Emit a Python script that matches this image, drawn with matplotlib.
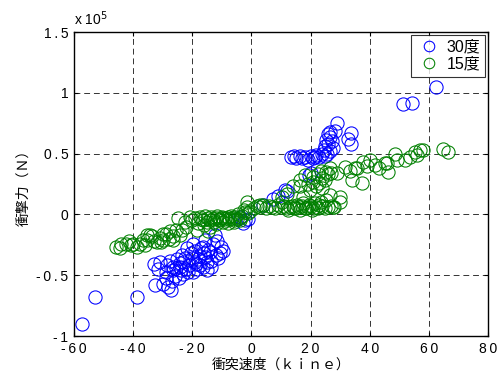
import matplotlib
matplotlib.use("Agg")
import matplotlib.pyplot as plt
from matplotlib.ticker import FixedLocator, FixedFormatter

# ---- data (force in units of 1e5 N) ----
x30 = [-57.1, -52.7, -38.8,
       -33.0, -30.9, -32.6, -29.8, -28.1, -27.3, -28.7, -26.4, -25.9, -24.2, -23.0, -23.0, -22.0,
       -20.2, -19.2, -17.4, -17.2, -15.1, -15.6, -14.0, -13.5, -11.2, -10.1, -13.0, -15.8, -19.6,
       -21.8, -23.5, -25.2, -19.0, -16.4, -27.5, -26.4, -12.3, -10.6, -16.3, -18.5, -21.0, -24.5,
       -26.8, -29.0, -20.5, -18.0, -14.5, -12.0, -17.0, -22.5, -13.8, -11.5, -16.0, -19.8, -28.5,
       -31.5, -24.0, -21.5, -25.5, -15.0, -9.5, -18.8, -23.8,
       -3.9, -2.2, -2.7, -1.0,
       4.0, 7.4, 9.0, 11.9, 11.4, 20.3, 19.5,
       13.5, 15.0, 16.5, 18.0, 19.0, 20.0, 21.0, 22.0, 23.0, 24.0, 25.0, 26.5, 14.5, 17.0, 21.5,
       24.5, 25.0, 25.4, 26.0, 26.6, 27.2, 26.0, 25.5, 27.5, 28.3, 28.8, 26.6,
       33.8, 33.8, 32.5,
       51.4, 54.2, 62.3]
y30 = [-0.90, -0.68, -0.68,
       -0.41, -0.39, -0.58, -0.57, -0.60, -0.62, -0.47, -0.46, -0.51, -0.43, -0.39, -0.49, -0.45,
       -0.36, -0.39, -0.34, -0.42, -0.46, -0.35, -0.31, -0.38, -0.36, -0.27, -0.24, -0.21, -0.24,
       -0.28, -0.33, -0.37, -0.30, -0.27, -0.38, -0.43, -0.17, -0.32, -0.43, -0.45, -0.42, -0.52,
       -0.55, -0.52, -0.32, -0.37, -0.29, -0.33, -0.28, -0.36, -0.43, -0.22, -0.32, -0.47, -0.42,
       -0.45, -0.40, -0.47, -0.44, -0.39, -0.30, -0.41, -0.46,
       -0.02, -0.05, -0.07, -0.04,
       0.076, 0.13, 0.15, 0.19, 0.20, 0.34, 0.32,
       0.47, 0.46, 0.48, 0.47, 0.45, 0.48, 0.46, 0.49, 0.47, 0.50, 0.48, 0.52, 0.48, 0.46, 0.47,
       0.53, 0.56, 0.61, 0.58, 0.64, 0.60, 0.66, 0.50, 0.55, 0.69, 0.75, 0.68,
       0.67, 0.58, 0.62,
       0.905, 0.913, 1.044]

x15 = [-45.6, -43.9, -44.4, -42.5, -40.7, -39.9, -37.7, -36.6, -35.4, -35.4, -34.3, -33.0, -32.0,
       -31.0, -29.8, -28.7, -27.6, -26.5, -26.4, -25.4, -24.8, -23.6, -22.5, -20.8, -18.5, -14.6,
       -38.5, -41.5, -33.5, -30.5, -28.0, -24.0, -22.0, -30.0, -36.0,
       -20.0, -19.0, -18.0, -17.5, -17.0, -16.3, -15.5, -15.0, -14.5, -14.0, -13.5, -13.0, -12.5,
       -12.0, -11.5, -11.0, -10.5, -10.0, -9.5, -9.0, -8.5, -8.0, -7.5, -7.0, -6.5, -6.0, -5.5,
       -5.0, -4.5, -4.0, -3.0, -2.0, -1.0, -16.0, -12.0, -8.0, -4.0, -14.0, -10.0, -6.0,
       -1.6, -2.5, -0.5,
       1.0, 2.0, 3.0, 4.0, 5.0, 6.0, 7.0, 8.0, 9.0, 10.0, 11.0, 12.0, 13.0, 14.0, 15.0, 16.0,
       17.0, 18.0, 19.0, 20.0, 21.0, 22.0, 23.0, 24.0, 25.0, 26.0, 27.0, 28.0, 30.0,
       12.5, 14.5, 16.5, 18.5, 20.5, 22.5, 15.5, 17.5, 19.5, 21.5, 23.5, 10.5,
       3.0, 16.4, 24.0, 26.6, -1.6,
       14.2, 16.4, 18.1, 20.9, 23.7, 25.4, 26.6, 22.0, 19.8, 17.6, 30.0, 25.4, 27.6, 21.0, 24.0,
       26.0, 22.5, 19.0, 23.0, 25.0, 27.0, 12.0, 10.5,
       28.9, 31.6, 33.3, 35.0, 35.6, 37.3, 37.8, 40.1, 41.8, 45.2, 45.8, 46.3, 48.6, 49.2, 51.9,
       53.6, 55.3, 57.0, 58.1, 56.0, 64.8, 66.5, 43.0, 39.0, 34.0]
y15 = [-0.27, -0.24, -0.28, -0.24, -0.25, -0.24, -0.24, -0.21, -0.17, -0.21, -0.17, -0.22, -0.225,
       -0.19, -0.21, -0.16, -0.14, -0.21, -0.18, -0.13, -0.03, -0.13, -0.06, -0.02, -0.13, -0.14,
       -0.27, -0.22, -0.18, -0.23, -0.20, -0.17, -0.10, -0.16, -0.25,
       -0.05, -0.03, -0.07, -0.02, -0.04, -0.05, -0.01, -0.06, -0.03, -0.05, -0.02, -0.04, -0.06,
       -0.03, -0.01, -0.05, -0.04, -0.02, -0.06, -0.03, -0.05, -0.02, -0.04, -0.01, -0.03, -0.05,
       -0.02, -0.04, 0.00, -0.03, -0.01, 0.02, 0.01, -0.09, -0.08, -0.07, -0.05, -0.10, -0.03, -0.06,
       0.06, 0.04, 0.03,
       0.05, 0.07, 0.06, 0.08, 0.05, 0.07, 0.06, 0.05, 0.08, 0.06, 0.07, 0.05, 0.06, 0.07, 0.05,
       0.06, 0.07, 0.05, 0.06, 0.07, 0.05, 0.06, 0.08, 0.07, 0.05, 0.06, 0.07, 0.06, 0.10,
       0.04, 0.05, 0.04, 0.05, 0.04, 0.05, 0.08, 0.09, 0.08, 0.09, 0.10, 0.10,
       0.076, 0.23, 0.22, 0.16, 0.10,
       0.23, 0.28, 0.32, 0.31, 0.36, 0.35, 0.38, 0.23, 0.20, 0.145, 0.145, 0.12, 0.06, 0.27, 0.30,
       0.33, 0.33, 0.25, 0.26, 0.28, 0.34, 0.17, 0.14,
       0.34, 0.39, 0.36, 0.38, 0.38, 0.255, 0.43, 0.45, 0.405, 0.42, 0.42, 0.35, 0.50, 0.45, 0.45,
       0.47, 0.515, 0.53, 0.53, 0.49, 0.54, 0.515, 0.38, 0.40, 0.28]

xticks = [-60, -40, -20, 0, 20, 40, 60, 80]
xticklabels = ["-60", "-40", "-20", "0", "20", "40", "60", "80"]
yticks = [-1, -0.5, 0, 0.5, 1, 1.5]
yticklabels = ["-1", "-0.5", "0", "0.5", "1", "1.5"]
series_labels = ["30度", "15度"]
xlabel = "衝突速度（ｋｉｎｅ）"
ylabel = "衝撃力（Ｎ）"

TS = "\u2009"  # thin space, mimics the wide letter spacing of the original
def spaced(s):
    return TS.join(list(s))

plt.rcParams['font.family'] = ['Liberation Sans', 'Noto Sans CJK JP', 'DejaVu Sans']

fig = plt.figure(figsize=(4.99, 3.74), dpi=100)
ax = fig.add_axes([0.148, 0.1016, 0.830, 0.8128])

ax.plot(x30, y30, linestyle='none', marker='o', markersize=9.5, markerfacecolor='none',
        markeredgecolor='#0000ff', markeredgewidth=0.75, label=series_labels[0])
ax.plot(x15, y15, linestyle='none', marker='o', markersize=9.5, markerfacecolor='none',
        markeredgecolor='#008000', markeredgewidth=0.75, label=series_labels[1])

ax.set_xlim(-60, 80)
ax.set_ylim(-1, 1.5)
ax.xaxis.set_major_locator(FixedLocator(xticks))
ax.xaxis.set_major_formatter(FixedFormatter([spaced(t) for t in xticklabels]))
ax.yaxis.set_major_locator(FixedLocator(yticks))
ax.yaxis.set_major_formatter(FixedFormatter([spaced(t) for t in yticklabels]))
ax.tick_params(direction='in', length=3, width=0.8, top=True, right=True, labelsize=10,
               colors='black')
ax.tick_params(axis='x', pad=4.5)
ax.tick_params(axis='y', pad=4.0)
ax.grid(True, color='0.2', linestyle=(0, (6, 4)), linewidth=0.7)
for s in ax.spines.values():
    s.set_linewidth(1.0)

ax.set_xlabel(xlabel, fontsize=10, family=['Noto Sans CJK JP', 'DejaVu Sans'], labelpad=1)
ax.set_ylabel(ylabel, fontsize=10, family=['Noto Sans CJK JP', 'DejaVu Sans'], labelpad=4)

fig.text(0.148, 0.925, 'x ' + r'10$^{5}$', fontsize=10, ha='left', va='bottom')

leg = ax.legend(loc='upper right', frameon=True, fancybox=False,
                edgecolor='black', borderpad=0.3, handletextpad=0.3, labelspacing=0.12,
                borderaxespad=0.19, handlelength=1.6, markerscale=0.8,
                prop={'family': ['Liberation Sans', 'Noto Sans CJK JP'], 'size': 11.5})
leg.get_frame().set_linewidth(0.8)

fig.savefig("out.png", dpi=100)
